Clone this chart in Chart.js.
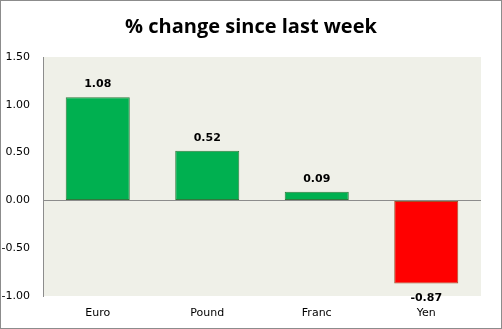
<!DOCTYPE html>
<html><head><meta charset="utf-8">
<script src="https://cdn.jsdelivr.net/npm/chart.js@4/dist/chart.umd.min.js"></script>
<style>
html,body{margin:0;padding:0;background:#fff;}
#wrap{position:relative;width:502px;height:329px;}
canvas{display:block;}
#frame{position:absolute;left:0;top:0;width:500px;height:327px;border:1px solid #8c8c8c;pointer-events:none;}
</style></head>
<body><div id="wrap"><canvas id="c" width="502" height="329"></canvas><div id="frame"></div></div>
<script>
const titleText = "% change since last week";
const categories = ["Euro", "Pound", "Franc", "Yen"];
const values = [1.08, 0.52, 0.09, -0.87];
const yMin = -1.0, yMax = 1.5, yStep = 0.5;

const bgPlugin = {
  id: 'bg',
  beforeDraw(chart) {
    const {ctx, chartArea: a} = chart;
    ctx.save();
    ctx.fillStyle = '#eff0e8';
    ctx.fillRect(a.left, a.top, a.right - a.left, a.bottom - a.top);
    ctx.restore();
  },
  afterDraw(chart) {
    const {ctx} = chart;
    ctx.save();
    ctx.fillStyle = '#000';
    ctx.font = 'bold 20px "Open Sans", "Liberation Sans", sans-serif';
    ctx.textAlign = 'center';
    ctx.textBaseline = 'middle';
    ctx.fillText(titleText, 251, 27);
    ctx.restore();
  }
};

const labelPlugin = {
  id: 'vals',
  afterDatasetsDraw(chart) {
    const {ctx} = chart;
    const meta = chart.getDatasetMeta(0);
    ctx.save();
    ctx.fillStyle = '#000';
    ctx.font = 'bold 11px "DejaVu Sans", sans-serif';
    ctx.textAlign = 'center';
    ctx.textBaseline = 'middle';
    meta.data.forEach((el, i) => {
      const v = values[i];
      const y = v >= 0 ? el.y - 13 : el.y + 15;
      ctx.fillText(v.toFixed(2), el.x, y);
    });
    ctx.restore();
  }
};

new Chart(document.getElementById('c'), {
  type: 'bar',
  data: {
    labels: categories,
    datasets: [{
      data: values,
      backgroundColor: values.map(v => v >= 0 ? '#00b050' : '#ff0000'),
      borderColor: values.map(v => v >= 0 ? '#2f7a3c' : '#a0522d'),
      borderWidth: 1,
      borderSkipped: false,
      categoryPercentage: 1.0,
      barPercentage: 0.585
    }]
  },
  options: {
    responsive: false,
    animation: false,
    devicePixelRatio: 1,
    layout: {padding: {top: 57, right: 21, left: 0, bottom: 0}},
    plugins: {legend: {display: false}, tooltip: {enabled: false}, title: {display: false}},
    scales: {
      x: {
        grid: {display: false, drawTicks: false},
        border: {display: false},
        ticks: {color: '#000', font: {family: '"DejaVu Sans", sans-serif', size: 11}, padding: 11, maxRotation: 0},
        afterFit(s) { s.height = 33; }
      },
      y: {
        min: yMin, max: yMax,
        grid: {
          drawTicks: false,
          color: ctx => (ctx.tick && ctx.tick.value === 0) ? '#8c8c8c' : 'rgba(0,0,0,0)',
          lineWidth: 1
        },
        border: {display: true, color: '#8c8c8c', width: 1},
        ticks: {
          stepSize: yStep, color: '#000', padding: 13,
          font: {family: '"DejaVu Sans", sans-serif', size: 11},
          callback: v => Number(v).toFixed(2)
        },
        afterFit(s) { s.width = 43; }
      }
    }
  },
  plugins: [bgPlugin, labelPlugin]
});
</script></body></html>
